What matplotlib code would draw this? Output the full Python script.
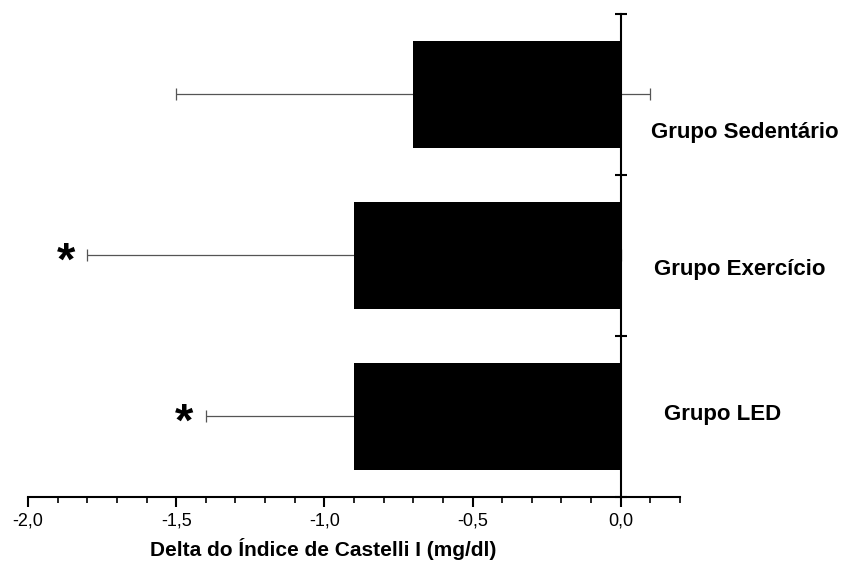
import numpy as np
import matplotlib.pyplot as plt
from matplotlib.ticker import MultipleLocator, FuncFormatter

plt.rcParams['font.family'] = ['Liberation Sans', 'DejaVu Sans']

# dados
grupos = ["Grupo LED", "Grupo Exercício", "Grupo Sedentário"]
delta = [-0.9, -0.9, -0.7]
erro = [0.5, 0.9, 0.8]
significativo = [True, True, False]

pos = np.arange(len(grupos))

fig = plt.figure(figsize=(8.44, 5.76), dpi=100)
ax = fig.add_axes([0.0332, 0.1372, 0.7725, 0.8385])

# barras de erro atrás das barras
ax.errorbar(delta, pos, xerr=erro, fmt='none', ecolor='#555555',
            elinewidth=0.9, capsize=4, capthick=0.9, zorder=1)
ax.barh(pos, delta, height=0.66, color='black', zorder=2)

# asteriscos de significância
for p, d, e, s in zip(pos, delta, erro, significativo):
    if s:
        ax.text(d - e - 0.072, p - 0.045, "*", ha='center', va='center',
                fontsize=34, fontweight='bold')

# nomes dos grupos à direita do eixo
desloc = [0.015, -0.09, -0.235]
xtexto = [0.345, 0.40, 0.42]
for p, g, dy, xt in zip(pos, grupos, desloc, xtexto):
    ax.text(xt, p + dy, g, ha='center', va='center',
            fontsize=16, fontweight='bold')

ax.set_xlim(-2.0, 0.2)
ax.set_ylim(-0.5, 2.5)

ax.spines['top'].set_visible(False)
ax.spines['right'].set_visible(False)
ax.spines['left'].set_position(('data', 0))
ax.spines['left'].set_linewidth(1.5)
ax.spines['bottom'].set_linewidth(1.5)

ax.set_yticks([-0.5, 0.5, 1.5, 2.5])
ax.set_yticklabels([])
ax.tick_params(axis='y', direction='inout', length=8, width=1.5)

ax.xaxis.set_major_locator(MultipleLocator(0.5))
ax.xaxis.set_minor_locator(MultipleLocator(0.1))
ax.xaxis.set_major_formatter(FuncFormatter(lambda v, _: f"{v:.1f}".replace('.', ',')))
ax.tick_params(axis='x', which='major', direction='out', length=7, width=1.5,
               labelsize=13, pad=4)
ax.tick_params(axis='x', which='minor', direction='out', length=4, width=1.2)

ax.set_xlabel("Delta do Índice de Castelli I (mg/dl)", fontsize=15,
              fontweight='bold')
ax.xaxis.set_label_coords(0.452, -0.085)

plt.savefig('out.png', dpi=100)
